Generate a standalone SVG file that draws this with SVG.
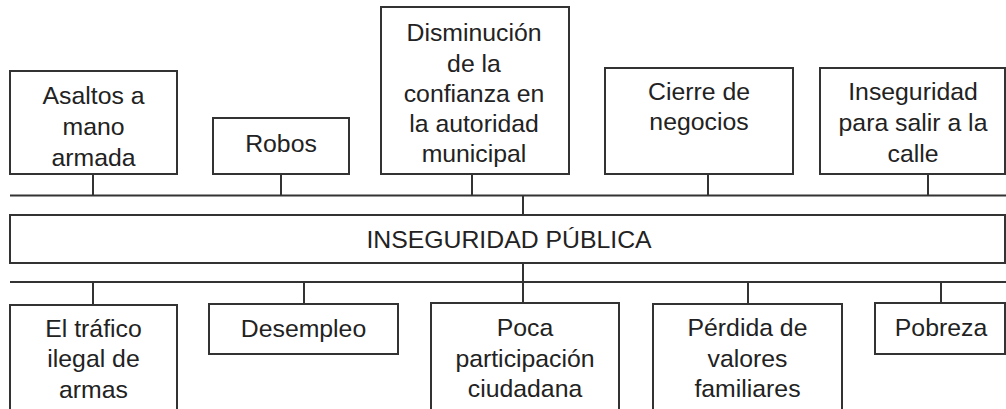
<svg xmlns="http://www.w3.org/2000/svg" width="1006" height="409" viewBox="0 0 1006 409">
<style>
.box{fill:#fff;stroke:#333;stroke-width:2}
.ln{stroke:#333;stroke-width:2;fill:none}
text{font-family:"Liberation Sans",Arial,sans-serif;font-size:24.8px;fill:#222;text-anchor:middle}
</style>
<rect width="1006" height="409" fill="#fff"/>
<g id="connectors">
<path class="ln" d="M10 195.5H1006M93 174V195.5M281 174V195.5M472 174V195.5M708 174V195.5M928 174V195.5M523 195.5V215"/>
<path class="ln" d="M523 263V282M10 282H1006M93 282V305M304 282V304M523 282V303M748 282V304M941 282V303"/>
</g>
<g id="asaltos"><rect class="box" x="10" y="71" width="167" height="103"/>
<text x="93.5" y="104">Asaltos a</text><text x="93.5" y="135">mano</text><text x="93.5" y="166">armada</text></g>
<g id="robos"><rect class="box" x="213" y="118" width="136" height="56"/>
<text x="281" y="152">Robos</text></g>
<g id="disminucion"><rect class="box" x="381" y="7" width="188" height="167"/>
<text x="474" y="41">Disminución</text><text x="474" y="72">de la</text><text x="474" y="102">confianza en</text><text x="474" y="132">la autoridad</text><text x="474" y="162">municipal</text></g>
<g id="cierre"><rect class="box" x="605" y="68" width="188" height="106"/>
<text x="699" y="100">Cierre de</text><text x="699" y="130">negocios</text></g>
<g id="inseguridad-calle"><rect class="box" x="820" y="68" width="185" height="106"/>
<text x="913" y="100">Inseguridad</text><text x="913" y="131">para salir a la</text><text x="913" y="162">calle</text></g>
<g id="inseguridad-publica"><rect class="box" x="10" y="215" width="995" height="48"/>
<text x="509" y="248">INSEGURIDAD PÚBLICA</text></g>
<g id="trafico"><rect class="box" x="10" y="305" width="167" height="120"/>
<text x="93.5" y="337">El tráfico</text><text x="93.5" y="367">ilegal de</text><text x="93.5" y="398">armas</text></g>
<g id="desempleo"><rect class="box" x="209" y="304" width="189" height="50"/>
<text x="303.5" y="337">Desempleo</text></g>
<g id="poca"><rect class="box" x="431" y="303" width="188" height="120"/>
<text x="525" y="336">Poca</text><text x="525" y="367">participación</text><text x="525" y="397">ciudadana</text></g>
<g id="perdida"><rect class="box" x="653" y="304" width="189" height="120"/>
<text x="747.5" y="336">Pérdida de</text><text x="747.5" y="367">valores</text><text x="747.5" y="397">familiares</text></g>
<g id="pobreza"><rect class="box" x="875" y="303" width="130" height="51"/>
<text x="941" y="336">Pobreza</text></g>
</svg>
